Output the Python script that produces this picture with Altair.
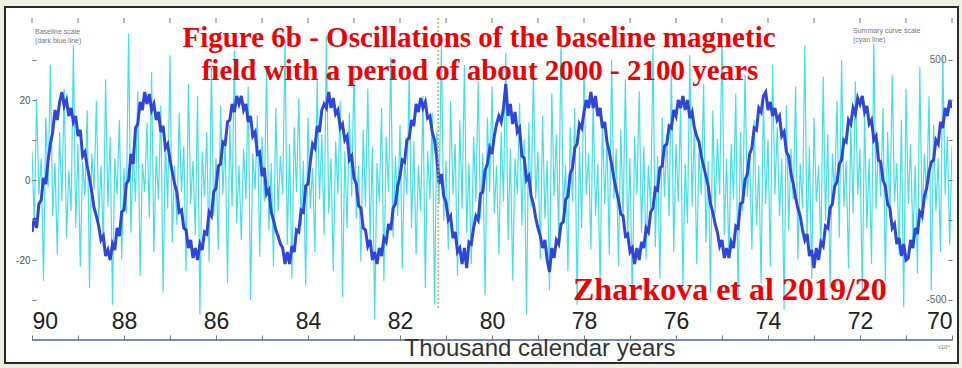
import altair as alt
import numpy as np
import pandas as pd

# ---- data -----------------------------------------------------------------
# dark blue "baseline" curve (left scale), samples every 0.05 kyr from 90 to 70 kyr
BLUE = [
    -13, -9.5, -12, -6, -5, 0.5, -1, 5, 9, 12, 17.5, 15, 19.5, 22, 18.5, 20, 16, 18, 14.5, 16,
    11, 12.5, 6, 7, 3.5, 0.5, -3, -7, -9, -11.5, -15, -14, -19, -17.5, -20, -16, -17.5, -12, -14, -8,
    -7.5, -1, 0, 6.5, 4, 13, 14, 19.5, 17.5, 22, 19, 21.5, 17.5, 19, 15, 17, 12, 13.5, 8, 9,
    5, 2, -1, -3, -8, -7.5, -12, -12.5, -17, -15, -19.5, -17, -20, -16, -17.5, -13, -13.5, -8, -9, -3,
    -2, 3.5, 4, 9.5, 9, 14.5, 15, 19, 17, 21, 19, 21, 17.5, 19, 14.5, 16, 11, 12, 6.5, 7,
    1, 3, -3.5, -2.5, -8, -10, -12.5, -14, -16, -17, -21, -18, -21, -16.5, -18, -12.5, -13, -7.5, -8, -1.5,
    -1, 4.5, 9, 8, 13.5, 12, 17.5, 19, 18, 22, 18, 20.5, 16.5, 17.5, 13, 14, 10, 11, 5, 6,
    0.5, -1, -6.5, -7, -12, -12.5, -16.5, -15, -20, -18, -21, -17, -19, -14.5, -15.5, -11, -12.5, -7, -6, -1.5,
    1, 5, 4.5, 10, 10.5, 15, 13.5, 19, 17, 20.5, 18, 19.5, 15.5, 16, 12, 10, 5.5, -1, 1.5, -4,
    -5.5, -10, -9, -14.5, -13, -18, -17, -21, -17, -22, -15.5, -16, -12, -9, -10, -3.5, -3, 2.5, 4, 8,
    6.5, 11, 14, 16, 14.5, 18, 24, 16, 19, 14, 17, 12, 13, 6, 5.5, 0, 1, -4, -6, -9.5,
    -12, -14, -17, -15, -20, -23, -17, -19.5, -15, -16, -11, -10.5, -5, -4, 1.5, 3, 8, 9, 14, 13,
    17, 20, 18, 22, 18, 21, 16, 18, 13, 14.5, 9.5, 7, 4, 0.5, -2.5, -5, -8.5, -9, -14, -13.5,
    -18, -17, -21, -17, -20, -15.5, -17, -12, -13, -8, -7, -2, -2.5, 3, 3.5, 8.5, 9, 13.5, 13, 17.5,
    16, 20, 18, 21, 17.5, 20, 15.5, 17, 13, 11, 9.5, 6, 3.5, 1, -1.5, -6, -8, -11, -13, -16.5,
    -15, -19.5, -17, -19.5, -15.5, -17, -11.5, -12, -6, -5.5, 0, 1.5, 6.5, 8, 13, 12.5, 18, 17, 21, 22,
    17.5, 19.5, 16, 18, 15, 16, 11, 12, 7, 6, 1.5, -1, -4.5, -7, -9, -12.5, -15, -13.5, -19, -17.5,
    -22, -17, -20, -15.5, -16.5, -11.5, -12, -7, -6, -1.5, -0.5, 4, 5, 10, 9.5, 15, 14, 18, 16.5, 20.5,
    19, 21, 17, 18.5, 14, 15, 10, 11, 5, 4.5, 0, -1.5, -6, -7, -12, -11, -16, -14.5, -19, -16,
    -20, -19.5, -15, -17, -12, -13.5, -8, -9, -4, -2, 2, 4.5, 5, 10, 9, 14.5, 13, 18, 16, 20,
    18,
]

# cyan "summary curve" (right scale), samples every 0.05 kyr from 90 to 70 kyr
CYAN = [
    120, -180, 340, -60, 90, -420, 260, -30, 480, -150, 70, -310, 200, -90, 380, -240, 40, -130, 560, -200,
    150, -360, 80, -70, 290, -450, 110, -40, 330, -170, 60, -280, 420, -110, 180, -520, 90, -60, 250, -330,
    50, -140, 610, -220, 130, -90, 370, -400, 70, -50, 240, -160, 450, -300, 100, -80, 310, -470, 160, -120,
    520, -260, 60, -190, 280, -50, 140, -380, 400, -100, 80, -230, 350, -560, 120, -70, 200, -340, 470, -150,
    90, -290, 310, -60, 170, -430, 230, -110, 540, -180, 60, -250, 130, -80, 390, -500, 110, -40, 270, -320,
    180, -90, 460, -210, 70, -360, 300, -130, 100, -60, 580, -270, 150, -410, 220, -50, 340, -190, 80, -440,
    260, -120, 50, -300, 420, -80, 190, -230, 600, -140, 90, -380, 160, -60, 330, -490, 120, -200, 280, -70,
    470, -160, 60, -340, 210, -110, 380, -260, 140, -580, 70, -90, 300, -420, 180, -50, 510, -240, 100, -150,
    230, -370, 90, -60, 440, -200, 160, -310, 60, -130, 350, -450, 120, -80, 280, -520, 200, -100, 570, -170,
    80, -290, 330, -60, 150, -400, 250, -120, 480, -220, 70, -350, 180, -90, 410, -160, 110, -480, 260, -50,
    390, -140, 60, -310, 200, -90, 530, -250, 130, -420, 90, -60, 320, -190, 170, -560, 240, -110, 450, -80,
    120, -330, 270, -160, 80, -460, 360, -70, 190, -240, 590, -130, 60, -380, 220, -90, 300, -520, 140, -200,
    480, -60, 110, -290, 340, -150, 70, -430, 250, -100, 160, -310, 500, -80, 130, -360, 210, -170, 420, -240,
    90, -500, 180, -60, 370, -220, 140, -330, 60, -120, 550, -280, 100, -410, 260, -70, 190, -150, 460, -300,
    150, -90, 310, -440, 70, -180, 520, -110, 230, -350, 120, -60, 400, -260, 80, -470, 290, -140, 170, -60,
    610, -230, 90, -320, 150, -80, 360, -500, 200, -130, 440, -70, 110, -290, 250, -190, 60, -430, 340, -100,
    170, -360, 480, -60, 220, -150, 90, -540, 310, -210, 130, -80, 390, -330, 70, -120, 560, -260, 140, -410,
    260, -90, 60, -300, 430, -170, 190, -450, 110, -60, 330, -240, 500, -110, 80, -370, 230, -140, 410, -60,
    130, -480, 280, -200, 90, -350, 570, -120, 160, -70, 300, -420, 200, -160, 440, -90, 70, -310, 250, -530,
    380, -100, 150, -250, 60, -390, 470, -180, 110, -80, 350, -460, 230, -130, 90, -300, 520, -60, 180, -270,
    140,
]

X_TICKS = list(range(70, 91))
LEFT_TICKS = [-30, -20, -10, 0, 10, 20, 30]
RIGHT_TICKS = [-500, -333.333, -166.667, 0, 166.667, 333.333, 500]
MARKER_KYR = [81.17]

TITLE_1 = "Figure 6b - Oscillations of the baseline magnetic"
TITLE_2 = "field with a period of about 2000 - 2100 years"
CREDIT = "Zharkova et al 2019/20"
X_TITLE = "Thousand calendar years"

# ---- tables ----------------------------------------------------------------
blue_df = pd.DataFrame({"kyr": np.linspace(90, 70, len(BLUE)), "blue": BLUE})
cyan_df = pd.DataFrame({"kyr": np.linspace(90, 70, len(CYAN)), "cyan": CYAN})
tick_df = pd.DataFrame({"kyr": X_TICKS})
marker_df = pd.DataFrame({"kyr": MARKER_KYR})
one = pd.DataFrame({"a": [0]})

W, H = 920, 322
SANS = "Liberation Sans"
SERIF = "Liberation Serif"

xscale = alt.Scale(domain=[70, 90], reverse=True, nice=False, zero=False)
xaxis = alt.Axis(
    values=X_TICKS, orient="bottom", offset=-5, tickSize=5, tickColor="#777",
    domain=False, grid=False, title=None, zindex=1,
    labelExpr="datum.value % 2 == 0 ? datum.label : ''",
    labelFlush=True, labelPadding=-12, labelBaseline="alphabetic",
    labelFont=SANS, labelFontSize=23, labelColor="#222", labelOverlap=False,
)
X = alt.X("kyr:Q", scale=xscale, axis=xaxis)

frame = alt.Chart(one).mark_rect(fill="white", stroke="#2a2a2a", strokeWidth=2).encode(
    x=alt.value(-27), x2=alt.value(926), y=alt.value(-11), y2=alt.value(345)
)

cyan = alt.Chart(cyan_df).mark_line(color="#45dfe8", strokeWidth=1.2, clip=True).encode(
    x=X,
    y=alt.Y(
        "cyan:Q",
        scale=alt.Scale(domain=[-666.7, 675], nice=False, zero=False),
        axis=alt.Axis(
            orient="right", values=RIGHT_TICKS, offset=-4, tickSize=4, tickColor="#777",
            domain=False, grid=False, title=None, zindex=1,
            labelExpr="datum.value == 500 ? '500' : (datum.value == -500 ? '-500' : '')",
            labelAlign="right", labelPadding=-6, labelFont=SANS, labelFontSize=10,
            labelColor="#666",
        ),
    ),
)

blue = alt.Chart(blue_df).mark_line(color="#2f46da", strokeWidth=3, clip=True).encode(
    x=X,
    y=alt.Y(
        "blue:Q",
        scale=alt.Scale(domain=[-40, 40.5], nice=False, zero=False),
        axis=alt.Axis(
            orient="left", values=LEFT_TICKS, offset=-4, tickSize=4, tickColor="#777",
            domain=False, grid=False, title=None, zindex=1,
            labelExpr="datum.value == 20 ? '20' : (datum.value == -20 ? '-20' : (datum.value == 0 ? '0' : ''))",
            labelPadding=2, labelFont=SANS, labelFontSize=10, labelColor="#555",
        ),
    ),
)

marker = alt.Chart(marker_df).mark_rule(color="#b5ad5a", strokeWidth=1.5, strokeDash=[2, 2]).encode(
    x=X, y=alt.value(0), y2=alt.value(292)
)

top_ticks = alt.Chart(tick_df).mark_rule(color="#777", strokeWidth=1).encode(
    x=X, y=alt.value(0), y2=alt.value(5)
)

bottom_line = alt.Chart(one).mark_rule(color="#4d62a5", strokeWidth=1.5).encode(
    x=alt.value(0), x2=alt.value(W), y=alt.value(H)
)


def label(text, x, y, size, font, color, align="center", weight="normal"):
    return alt.Chart(one).mark_text(
        text=text, font=font, fontSize=size, color=color, align=align,
        baseline="alphabetic", fontWeight=weight,
    ).encode(x=alt.value(x), y=alt.value(y))


texts = [
    label(TITLE_1, 447, 29, 29, SERIF, "#f00000", weight="bold"),
    label(TITLE_2, 448, 62, 29, SERIF, "#f00000", weight="bold"),
    label(CREDIT, 541, 282, 32, SERIF, "#f00000", align="left", weight="bold"),
    label(X_TITLE, 508, 338, 24, SANS, "#333"),
    label("Baseline scale", 3, 16, 7, SANS, "#777", align="left"),
    label("(dark blue line)", 3, 25, 7, SANS, "#777", align="left"),
    label("Summary curve scale", 821, 15, 7, SANS, "#777", align="left"),
    label("(cyan line)", 821, 24, 7, SANS, "#777", align="left"),
    label("x10⁴", 918, 331, 6, SANS, "#777", align="right"),
]

chart = (
    alt.layer(frame, cyan, blue, marker, top_ticks, bottom_line, *texts)
    .resolve_scale(y="independent")
    .properties(
        width=W, height=H,
        padding={"left": 32, "top": 18, "right": 10, "bottom": 28},
        autosize=alt.AutoSizeParams(type="none"),
        background="#eef0e4",
    )
    .configure_view(stroke="#9a9a9a", strokeWidth=1)
)

chart.save("out.html", embed_options={"renderer": "svg", "actions": False})
